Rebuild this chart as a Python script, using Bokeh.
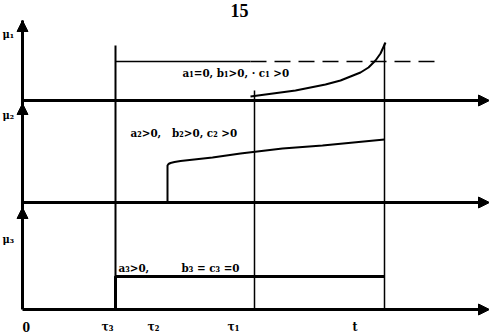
from bokeh.plotting import figure
from bokeh.models import Range1d, Arrow, NormalHead, ColumnDataSource
from bokeh.core.properties import value
from bokeh.embed import file_html
from bokeh.resources import INLINE

# ---- data (time units from origin, heights relative to each panel baseline) ----
tau3, tau2, tau1, t_end = 93, 145, 232, 362
x_max = 467
base1, base2, base3 = 209, 107, 0          # panel baselines (mu1, mu2, mu3)
axis_top = [289, 206, 102]                 # arrow tips of vertical axes

curve1_x = [228, 243, 258, 273, 288, 303, 318, 328, 338, 346, 353, 358, 363]
curve1_h = [4, 6, 8, 10, 13, 16, 20, 24, 28, 33, 40, 47, 58]
dash_level = 39
solid_end = 228
dash_end = 413

curve2_x = [145, 145, 146, 148, 152, 158, 190, 218, 260, 300, 362]
curve2_h = [0, 37, 38.5, 39.5, 40.5, 41.5, 45, 49, 54, 57, 63]

bar3_h = 33

vlines_x = [tau3, tau1, t_end]
vlines_top = [264, 219, 266]

NB = "\u00a0"
ann_text = ["a\u2081=0," + NB + "b\u2081>0," + NB + "\u00b7" + NB + "c\u2081" + NB + ">0",
            "a\u2082>0," + NB * 3 + "b\u2082>0," + NB + "c\u2082" + NB + ">0",
            "a\u2083>0," + NB * 9 + "b\u2083" + NB + "=" + NB + "c\u2083" + NB + "=0"]
ann_x = [160, 108, 96]
ann_y = [237, 177, 42]

mu_labels = ["\u03bc\u2081", "\u03bc\u2082", "\u03bc\u2083"]
mu_y = [275, 194, 70]

tick_labels = ["0", "\u03c4\u2083", "\u03c4\u2082", "\u03c4\u2081", "t"]
tick_x = [0, 79, 125, 205, 330]

page_label = "15"

# ---- figure ----
p = figure(width=489, height=334, output_backend="svg", toolbar_location=None,
           x_range=Range1d(-22, 467), y_range=Range1d(-25, 309),
           min_border=0, min_border_left=0, min_border_right=0,
           min_border_top=0, min_border_bottom=0)
p.axis.visible = False
p.grid.visible = False
p.outline_line_color = None
p.background_fill_color = "white"

# left vertical axis
p.line([0, 0], [0, axis_top[0]], line_width=3, color="black")
for tip in axis_top:
    p.add_layout(Arrow(end=NormalHead(size=11, fill_color="black", line_color="black"),
                       x_start=0, y_start=tip - 12, x_end=0, y_end=tip,
                       line_width=3, line_color="black"))

# horizontal axes
for b in [base1, base2, base3]:
    p.add_layout(Arrow(end=NormalHead(size=11, fill_color="black", line_color="black"),
                       x_start=0, y_start=b, x_end=x_max, y_end=b,
                       line_width=3, line_color="black"))

# vertical reference lines
for xv, top, lw in zip(vlines_x, vlines_top, [2, 1.5, 1.5]):
    p.line([xv, xv], [0, top], line_width=lw, color="black")

# panel 1: level line (solid then dashed) and growing curve
p.line([tau3, solid_end], [base1 + dash_level] * 2, line_width=1.5, color="black")
p.line([solid_end, dash_end], [base1 + dash_level] * 2, line_width=1.5, color="black",
       line_dash="16 8")
p.line(curve1_x, [base1 + h for h in curve1_h], line_width=2, color="black")

# panel 2: jump then slow growth
p.line(curve2_x, [base2 + h for h in curve2_h], line_width=2, color="black")

# panel 3: step
p.line([tau3, tau3, t_end], [base3, base3 + bar3_h, base3 + bar3_h],
       line_width=3, color="black")

# texts
serif = value("DejaVu Serif Condensed")
src = ColumnDataSource(dict(x=ann_x, y=ann_y, text=ann_text))
p.text("x", "y", "text", source=src, text_font=serif,
       text_font_size="11.5px", text_font_style="bold", text_baseline="middle",
       text_align="left", color="black")

p.text([-20] * 3, mu_y, mu_labels, text_font=serif,
       text_font_size="11px", text_font_style="bold", text_baseline="middle",
       text_align="left", color="black")

p.text(tick_x, [-17] * 5, tick_labels, text_font=serif,
       text_font_size="12px", text_font_style="bold", text_baseline="middle",
       text_align="left", color="black")

p.text([208], [299], [page_label], text_font=value("Liberation Serif"),
       text_font_size="18px", text_font_style="bold", text_baseline="middle",
       text_align="left", color="black")

open("out.html", "w").write(file_html(p, INLINE))
